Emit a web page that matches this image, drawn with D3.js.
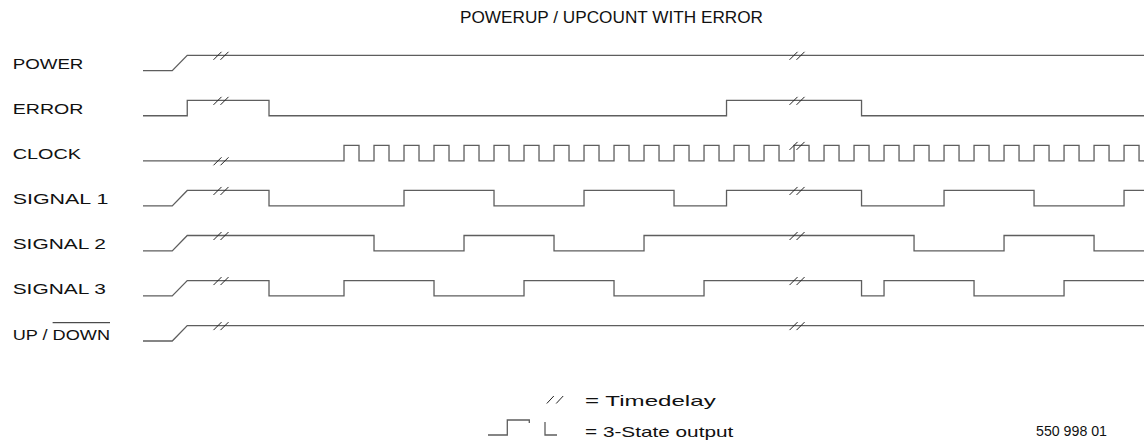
<!DOCTYPE html>
<html>
<head>
<meta charset="utf-8">
<script src="https://cdn.jsdelivr.net/npm/d3@7"></script>
<style>
  html, body { margin: 0; padding: 0; background: #fff; }
  text { font-family: 'Liberation Sans', Arial, sans-serif; fill: #111; }
</style>
</head>
<body>
<div id="chart"></div>
<script>
// time unit = half a clock period
const timeRange = [-13.4, 53.33];
const rampTimes = [-11.45, -10.45];
const delayTimes = [-8.2, 30.2];

const labels = ['POWER', 'ERROR', 'CLOCK', 'SIGNAL 1', 'SIGNAL 2', 'SIGNAL 3', 'UP / DOWN'];
const rampsUp = [true, false, false, true, true, true, true];

// toggle times (each one flips the level)
const powerEdges = [];
const errorEdges = [-10.45, -5, 25.5, 34.5];
const clockEdges = [0, 1, 2, 3, 4, 5, 6, 7, 8, 9, 10, 11, 12, 13, 14, 15, 16, 17, 18, 19,
  20, 21, 22, 23, 24, 25, 26, 27, 28, 29, 30, 31, 32, 33, 34, 35, 36, 37, 38, 39,
  40, 41, 42, 43, 44, 45, 46, 47, 48, 49, 50, 51, 52, 53];
const signal1Edges = [-5, 4, 10, 16, 22, 25.5, 34.5, 40, 46, 52];
const signal2Edges = [2, 8, 14, 20, 38, 44, 50];
const signal3Edges = [-5, 0, 6, 12, 18, 24, 34.5, 36, 42, 48];
const upDownEdges = [];

const allEdges = [powerEdges, errorEdges, clockEdges, signal1Edges, signal2Edges, signal3Edges, upDownEdges];

const width = 1144;
const height = 441;
const amp = 15.4;

const svg = d3.select('#chart')
  .append('svg')
  .attr('width', width)
  .attr('height', height);

const x = d3.scaleLinear().domain(timeRange).range([143, 1144]);
const y = d3.scaleLinear().domain([0, labels.length - 1]).range([70.7, 341]);

const buildPoints = (edges, ramp) => {
  const pts = [[timeRange[0], 0]];
  let level = 0;
  if (ramp) {
    pts.push([rampTimes[0], 0], [rampTimes[1], 1]);
    level = 1;
  }
  edges.forEach((t) => {
    pts.push([t, level]);
    level = 1 - level;
    pts.push([t, level]);
  });
  pts.push([timeRange[1], level]);
  return pts;
};

const levelAt = (edges, ramp, t) => {
  let level = ramp ? 1 : 0;
  edges.forEach((e) => {
    if (e <= t) level = 1 - level;
  });
  return level;
};

// title
svg.append('text')
  .attr('x', 460)
  .attr('y', 23)
  .attr('font-size', 16)
  .attr('textLength', 303)
  .attr('lengthAdjust', 'spacingAndGlyphs')
  .text('POWERUP / UPCOUNT WITH ERROR');

const labelWidths = [70.7, 70.7, 68.3, 95.7, 93.3, 93.3, 97.3];

labels.forEach((name, i) => {
  const base = y(i);
  const lbl = svg.append('text')
    .attr('x', 12.7)
    .attr('y', base - 1.5)
    .attr('font-size', 15.5)
    .attr('textLength', labelWidths[i])
    .attr('lengthAdjust', 'spacingAndGlyphs')
    .text(name);

  if (name === 'UP / DOWN') {
    const node = lbl.node();
    const start = node.getStartPositionOfChar(5).x;
    const end = node.getEndPositionOfChar(name.length - 1).x;
    svg.append('line')
      .attr('x1', start)
      .attr('x2', end)
      .attr('y1', base - 18.3)
      .attr('y2', base - 18.3)
      .attr('stroke', '#222')
      .attr('stroke-width', 1);
  }

  const line = d3.line()
    .x((d) => x(d[0]))
    .y((d) => base - d[1] * amp);

  svg.append('path')
    .datum(buildPoints(allEdges[i], rampsUp[i]))
    .attr('d', line)
    .attr('fill', 'none')
    .attr('stroke', '#5e5e5e')
    .attr('stroke-width', 1.3);

  delayTimes.forEach((t) => {
    const cx = x(t);
    const cy = base - levelAt(allEdges[i], rampsUp[i], t) * amp;
    [-3.5, 3.5].forEach((off) => {
      svg.append('line')
        .attr('x1', cx + off - 4)
        .attr('y1', cy + 4.5)
        .attr('x2', cx + off + 4)
        .attr('y2', cy - 3.5)
        .attr('stroke', '#222')
        .attr('stroke-width', 1);
    });
  });
});

// legend: timedelay
[-4.7, 4.7].forEach((off) => {
  svg.append('line')
    .attr('x1', 555 + off - 3.5)
    .attr('y1', 403.5)
    .attr('x2', 555 + off + 3.5)
    .attr('y2', 396)
    .attr('stroke', '#222')
    .attr('stroke-width', 1);
});
svg.append('text')
  .attr('x', 585)
  .attr('y', 405.5)
  .attr('font-size', 15)
  .attr('textLength', 130.7)
  .attr('lengthAdjust', 'spacingAndGlyphs')
  .text('= Timedelay');

// legend: 3-state output
svg.append('path')
  .attr('d', d3.line()([[488, 435], [507.3, 435], [507.3, 420], [529.3, 420], [529.3, 423]]))
  .attr('fill', 'none')
  .attr('stroke', '#5e5e5e')
  .attr('stroke-width', 1.3);
svg.append('path')
  .attr('d', d3.line()([[545, 422], [545, 435], [557, 435]]))
  .attr('fill', 'none')
  .attr('stroke', '#5e5e5e')
  .attr('stroke-width', 1.3);
svg.append('text')
  .attr('x', 585)
  .attr('y', 437)
  .attr('font-size', 15)
  .attr('textLength', 148.3)
  .attr('lengthAdjust', 'spacingAndGlyphs')
  .text('= 3-State output');

svg.append('text')
  .attr('x', 1036)
  .attr('y', 435.5)
  .attr('font-size', 14)
  .attr('textLength', 71)
  .attr('lengthAdjust', 'spacingAndGlyphs')
  .text('550 998 01');
</script>
</body>
</html>
